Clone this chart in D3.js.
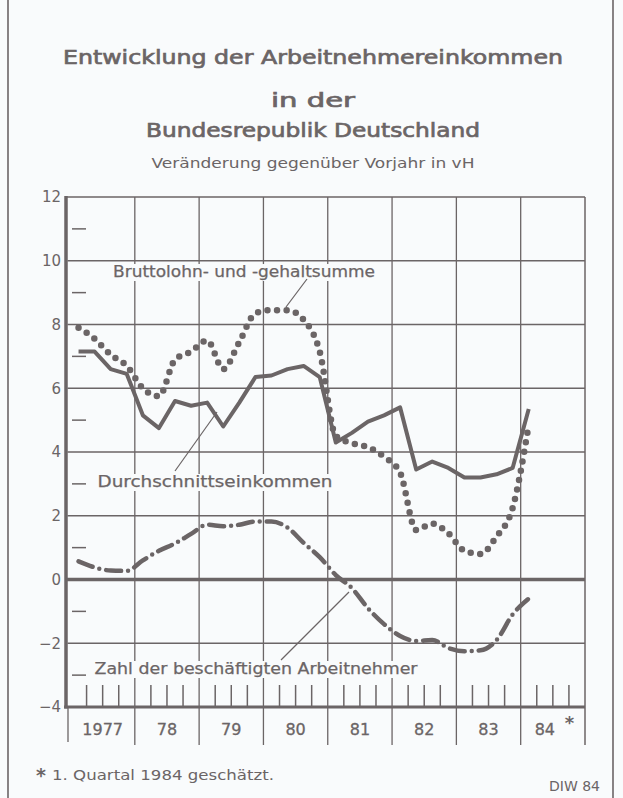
<!DOCTYPE html>
<html>
<head>
<meta charset="utf-8">
<script src="https://cdn.jsdelivr.net/npm/d3@7"></script>
<style>
  html, body { margin: 0; padding: 0; background: #f9fbfc; }
  svg { display: block; font-family: "DejaVu Sans", sans-serif; }
</style>
</head>
<body>
<svg id="chart" width="623" height="798"></svg>
<script>
// quarterly values, 1977 Q1 .. 1984 Q1 (change vs. previous year in %)
const startYear = 1977;
const brutto = [7.9, 7.55, 7.05, 6.7, 6.0, 5.75, 6.9, 7.15, 7.5, 6.6, 7.45, 8.35, 8.45, 8.45, 8.15, 7.15,
  4.5, 4.28, 4.15, 3.85, 3.35, 1.55, 1.75, 1.45, 0.9, 0.8, 1.35, 2.25, 4.85];
const durchschnitt = [7.15, 7.15, 6.6, 6.45, 5.15, 4.75, 5.6, 5.45, 5.55, 4.8, 5.55, 6.35, 6.4, 6.6, 6.7, 6.35,
  4.3, 4.6, 4.95, 5.15, 5.4, 3.45, 3.7, 3.5, 3.2, 3.2, 3.3, 3.5, 5.35];
const beschaeftigte = [0.57, 0.38, 0.28, 0.27, 0.6, 0.9, 1.13, 1.43, 1.72, 1.67, 1.72, 1.82, 1.82, 1.63, 1.15, 0.7,
  0.14, -0.27, -0.9, -1.4, -1.77, -1.93, -1.9, -2.15, -2.25, -2.22, -1.9, -1.1, -0.6];
const yearLabels = ["1977", "78", "79", "80", "81", "82", "83", "84"];
const yTicks = [12, 10, 8, 6, 4, 2, 0, -2, -4];

const ink = "#6b6566";
const bg = "#f9fbfc";

const svg = d3.select("#chart");
const x = d3.scaleLinear().domain([1977, 1985]).range([70.5, 585]);
const y = d3.scaleLinear().domain([-4, 12]).range([707, 197]);
const tOf = (i) => startYear + (i + 0.5) / 4;

// outer frame
svg.append("line").attr("x1", 8).attr("x2", 8).attr("y1", 0).attr("y2", 798)
  .attr("stroke", ink).attr("stroke-width", 1.6);
svg.append("line").attr("x1", 613).attr("x2", 613).attr("y1", 0).attr("y2", 798)
  .attr("stroke", ink).attr("stroke-width", 1.6);

// titles
const titles = [
  { t: "Entwicklung der Arbeitnehmereinkommen", y: 64, w: 500, size: 20, heavy: true },
  { t: "in der", y: 107, w: 84, size: 20, heavy: true },
  { t: "Bundesrepublik Deutschland", y: 137, w: 334, size: 20, heavy: true },
  { t: "Veränderung gegenüber Vorjahr in vH", y: 168, w: 323, size: 14, heavy: false },
];
titles.forEach(d => {
  svg.append("text").attr("x", 313).attr("y", d.y).attr("text-anchor", "middle")
    .attr("font-size", d.size)
    .attr("fill", ink).attr("stroke", d.heavy ? ink : "none").attr("stroke-width", 0.7)
    .attr("textLength", d.w).attr("lengthAdjust", "spacingAndGlyphs")
    .text(d.t);
});

const grid = svg.append("g").attr("stroke", ink);

// horizontal grid
grid.selectAll("line.h").data([10, 8, 6, 4, 2, -2]).join("line").attr("class", "h")
  .attr("x1", x(1977) - 3).attr("x2", x(1985))
  .attr("y1", d => y(d)).attr("y2", d => y(d)).attr("stroke-width", 1.3);
// top border
grid.append("line").attr("x1", 66).attr("x2", x(1985)).attr("y1", y(12)).attr("y2", y(12)).attr("stroke-width", 1.5);
// vertical year lines
grid.selectAll("line.v").data(d3.range(1978, 1985)).join("line").attr("class", "v")
  .attr("x1", d => x(d)).attr("x2", d => x(d)).attr("y1", y(12)).attr("y2", 745).attr("stroke-width", 1.3);
grid.append("line").attr("x1", x(1985)).attr("x2", x(1985)).attr("y1", y(12)).attr("y2", 745).attr("stroke-width", 1.5);
grid.append("line").attr("x1", 68).attr("x2", 68).attr("y1", y(-4)).attr("y2", 742).attr("stroke-width", 1.3);
// minor y ticks
grid.selectAll("line.m").data([11, 9, 7, 5, 3, 1, -1, -3]).join("line").attr("class", "m")
  .attr("x1", 72).attr("x2", 86).attr("y1", d => y(d)).attr("y2", d => y(d)).attr("stroke-width", 1.5);
// quarter ticks at bottom
const qTicks = d3.range(0, 32).filter(q => q % 4 !== 0).map(q => startYear + q / 4);
grid.selectAll("line.q").data(qTicks).join("line").attr("class", "q")
  .attr("x1", d => x(d)).attr("x2", d => x(d)).attr("y1", 685).attr("y2", y(-4)).attr("stroke-width", 1.5);

// axes lines
svg.append("line").attr("x1", 66).attr("x2", 66).attr("y1", y(12) - 1).attr("y2", y(-4) + 1.5)
  .attr("stroke", ink).attr("stroke-width", 3.5);
svg.append("line").attr("x1", 64).attr("x2", x(1985)).attr("y1", y(-4)).attr("y2", y(-4))
  .attr("stroke", ink).attr("stroke-width", 3);
svg.append("line").attr("x1", 66).attr("x2", x(1985)).attr("y1", y(0)).attr("y2", y(0))
  .attr("stroke", ink).attr("stroke-width", 3.5);

// y labels
const yAxis = svg.append("g").attr("transform", "translate(61,0)")
  .call(d3.axisLeft(y).tickValues(yTicks).tickSize(0).tickPadding(0)
    .tickFormat(d => d < 0 ? "\u2212" + Math.abs(d) : d));
yAxis.select(".domain").remove();
yAxis.selectAll("text").attr("fill", ink).attr("font-size", 15)
  .attr("font-family", "DejaVu Sans, sans-serif");

// year labels
svg.selectAll("text.year").data(yearLabels).join("text").attr("class", "year")
  .attr("x", (d, i) => x(startYear + i + 0.5) - (i === 7 ? 8 : 0)).attr("y", 735)
  .attr("text-anchor", "middle").attr("font-size", 16).attr("fill", ink)
  .attr("stroke", ink).attr("stroke-width", 0.3).text(d => d);
svg.append("text").attr("x", x(1984.5) + 12).attr("y", 729).attr("font-size", 18)
  .attr("font-weight", "bold").attr("fill", ink).text("*");

// labels with white backing
function label(txt, cx, base, w) {
  const g = svg.append("g");
  const r = g.append("rect").attr("fill", bg);
  const t = g.append("text").attr("x", cx).attr("y", base).attr("text-anchor", "middle")
    .attr("font-size", 15).attr("fill", ink).attr("stroke", ink).attr("stroke-width", 0.25)
    .attr("textLength", w).attr("lengthAdjust", "spacingAndGlyphs")
    .text(txt);
  const b = t.node().getBBox();
  r.attr("x", b.x - 3).attr("y", b.y + 1).attr("width", b.width + 6).attr("height", b.height - 1);
}
label("Bruttolohn- und -gehaltsumme", 244, 277, 262);
label("Durchschnittseinkommen", 215, 487, 235);
label("Zahl der beschäftigten Arbeitnehmer", 256, 674, 323);

// leader lines
const leaders = [[307, 279, 286, 307], [175, 471, 217, 412], [281, 660, 349, 592]];
svg.selectAll("line.lead").data(leaders).join("line").attr("class", "lead")
  .attr("x1", d => d[0]).attr("y1", d => d[1]).attr("x2", d => d[2]).attr("y2", d => d[3])
  .attr("stroke", ink).attr("stroke-width", 1.2);

// series
const lineSmooth = d3.line().x((d, i) => x(tOf(i))).y(d => y(d)).curve(d3.curveMonotoneX);
const lineStraight = d3.line().x((d, i) => x(tOf(i))).y(d => y(d));

svg.append("path").datum(durchschnitt).attr("d", lineStraight)
  .attr("fill", "none").attr("stroke", ink).attr("stroke-width", 4).attr("stroke-linejoin", "round");
svg.append("path").datum(brutto).attr("d", lineSmooth)
  .attr("fill", "none").attr("stroke", ink).attr("stroke-width", 6.5)
  .attr("stroke-linecap", "round").attr("stroke-dasharray", "0 9.6");
svg.append("path").datum(beschaeftigte).attr("d", lineSmooth)
  .attr("fill", "none").attr("stroke", ink).attr("stroke-width", 4.5)
  .attr("stroke-linecap", "round").attr("stroke-dasharray", "15 7 0 7");

// footnotes
svg.append("text").attr("x", 36).attr("y", 782).attr("font-size", 19).attr("font-weight", "bold")
  .attr("fill", ink).text("*");
svg.append("text").attr("x", 52).attr("y", 780).attr("font-size", 14).attr("fill", ink)
  .attr("textLength", 222).attr("lengthAdjust", "spacingAndGlyphs").text("1. Quartal 1984 geschätzt.");
svg.append("text").attr("x", 600).attr("y", 791).attr("text-anchor", "end").attr("font-size", 14)
  .attr("fill", ink).text("DIW 84");
</script>
</body>
</html>
